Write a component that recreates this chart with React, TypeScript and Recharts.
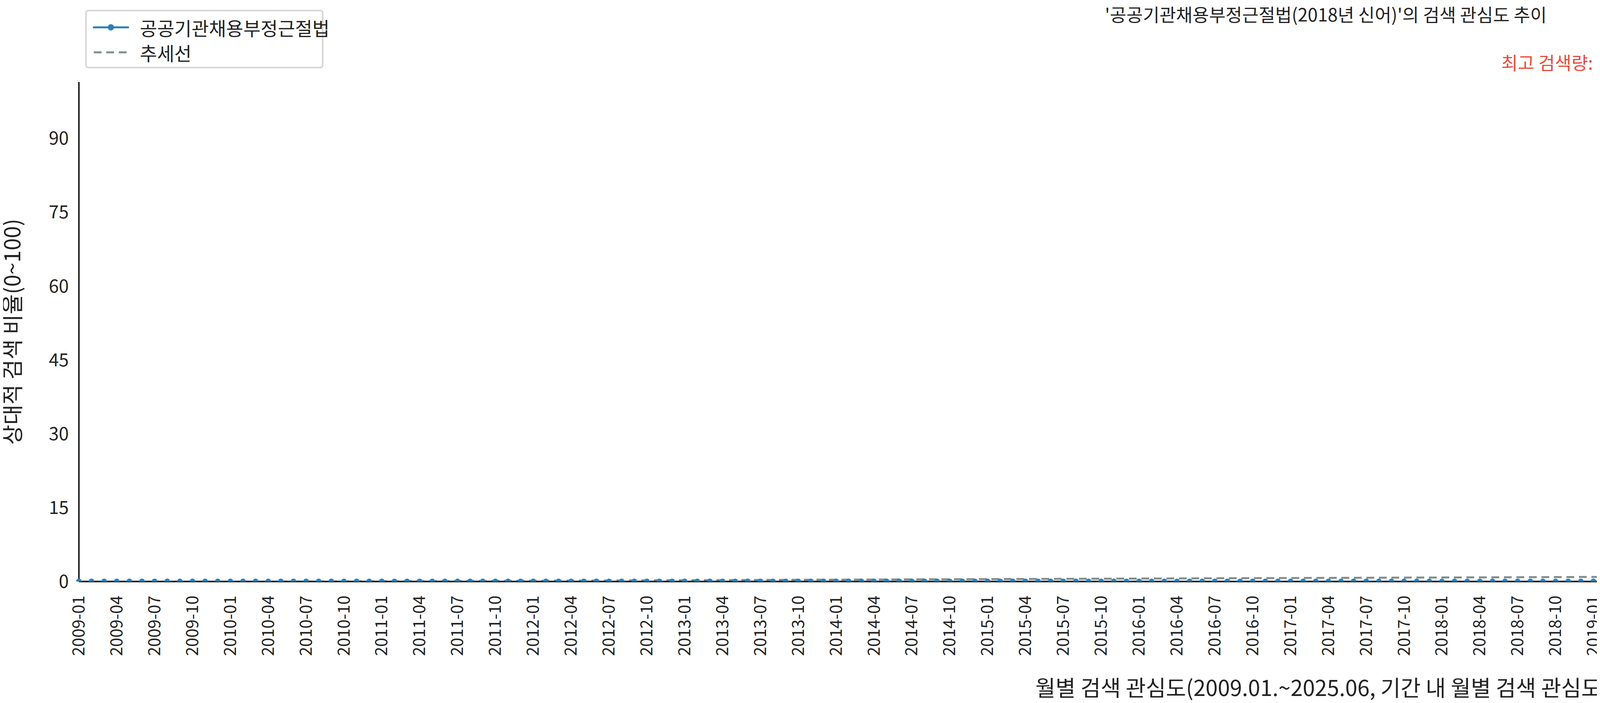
import { LineChart, Line, XAxis, YAxis, ReferenceDot, Label } from "recharts";

const FONT = "'Noto Sans CJK KR', 'Noto Sans', sans-serif";

// monthly search interest, 2009-01 .. 2025-06 (all zero except two spikes)
const START_YEAR = 2009;
const MONTH_COUNT = 198;
const spikes: Record<string, number> = { "2019-03": 100, "2023-10": 46 };

const months: string[] = [];
for (let i = 0; i < MONTH_COUNT; i++) {
  const y = START_YEAR + Math.floor(i / 12);
  const m = (i % 12) + 1;
  months.push(`${y}-${String(m).padStart(2, "0")}`);
}
const values: number[] = months.map((m) => spikes[m] ?? 0);
const tickLabels = months.filter((_, i) => i % 3 === 0);
const yTicks = [0, 15, 30, 45, 60, 75, 90];

// least squares trend over the series
const n = values.length;
const xm = (n - 1) / 2;
const ym = values.reduce((a, b) => a + b, 0) / n;
let sxy = 0;
let sxx = 0;
values.forEach((v, i) => {
  sxy += (i - xm) * (v - ym);
  sxx += (i - xm) * (i - xm);
});
const slope = sxy / sxx;
const data = months.map((m, i) => ({
  month: m,
  value: values[i],
  trend: ym + slope * (i - xm),
}));

const peakIdx = values.indexOf(Math.max(...values));
const peakMonth = months[peakIdx];
const peakLabel = `최고 검색량: ${peakMonth.slice(0, 4)}년 ${peakMonth.slice(5)}월(${values[peakIdx]})`;

function PeakMark(props: any) {
  const { cx, cy } = props;
  const s = 16;
  return (
    <g>
      <path
        d={`M${cx - s},${cy - s}L${cx + s},${cy + s}M${cx - s},${cy + s}L${cx + s},${cy - s}`}
        stroke="#e74c3c"
        strokeWidth={9}
      />
      <text x={cx} y={cy - 50} textAnchor="middle" fill="#e74c3c" fontSize={46} fontFamily={FONT}>
        {peakLabel}
      </text>
    </g>
  );
}

function XTick(props: any) {
  const { x, y, payload } = props;
  return (
    <text
      x={x}
      y={y}
      transform={`rotate(-90 ${x} ${y + 14})`}
      dx={-14}
      dy={28}
      textAnchor="end"
      fill="#222"
      fontSize={42}
      fontFamily={FONT}
    >
      {payload.value}
    </text>
  );
}

export default function App() {
  return (
    <div
      style={{
        position: "relative",
        margin: "-8px 0 0 -8px",
        width: 6600,
        height: 1800,
        overflow: "hidden",
        background: "#fff",
        fontFamily: FONT,
      }}
    >
      <div style={{ position: "absolute", top: 2, left: 198, width: 6392, textAlign: "center", fontSize: 46, color: "#222" }}>
        '공공기관채용부정근절법(2018년 신어)'의 검색 관심도 추이
      </div>
      <div
        style={{
          position: "absolute",
          left: 218,
          top: 25,
          width: 610,
          height: 150,
          border: "4px solid #d6d6d6",
          borderRadius: 8,
          boxSizing: "border-box",
          fontSize: 48,
          color: "#222",
          whiteSpace: "nowrap",
        }}
      >
        <div style={{ position: "absolute", left: 14, top: 6, display: "flex", alignItems: "center" }}>
          <svg width={96} height={60}>
            <line x1={4} y1={30} x2={92} y2={30} stroke="#2980b9" strokeWidth={5} strokeLinecap="round" />
            <circle cx={48} cy={30} r={8} fill="#2980b9" />
          </svg>
          <span style={{ marginLeft: 26 }}>공공기관채용부정근절법</span>
        </div>
        <div style={{ position: "absolute", left: 14, top: 70, display: "flex", alignItems: "center" }}>
          <svg width={96} height={60}>
            <line x1={4} y1={30} x2={92} y2={30} stroke="#7f8c8d" strokeWidth={5} strokeDasharray="20 12" />
          </svg>
          <span style={{ marginLeft: 26 }}>추세선</span>
        </div>
      </div>
      <div style={{ position: "absolute", left: 0, top: 0 }}>
        <LineChart width={6600} height={1800} data={data} margin={{ top: 210, right: 33, bottom: 0, left: 102 }}>
          <XAxis
            dataKey="month"
            ticks={tickLabels}
            interval={0}
            tick={<XTick />}
            tickLine={false}
            axisLine={{ stroke: "#222", strokeWidth: 4 }}
            height={311}
          >
            <Label value="월별 검색 관심도(2009.01.~2025.06, 기간 내 월별 검색 관심도)" position="insideBottom" offset={18} fill="#222" fontSize={56} fontFamily={FONT} />
          </XAxis>
          <YAxis
            domain={[0, 101.4]}
            ticks={yTicks}
            allowDataOverflow
            width={100}
            tickLine={false}
            axisLine={{ stroke: "#222", strokeWidth: 4 }}
            tick={{ fill: "#222", fontSize: 46, fontFamily: FONT }}
            tickMargin={20}
          >
            <Label value="상대적 검색 비율(0~100)" angle={-90} position="center" dx={-120} fill="#222" fontSize={56} fontFamily={FONT} />
          </YAxis>
          <Line
            dataKey="trend"
            stroke="#7f8c8d"
            strokeWidth={5}
            strokeDasharray="20 12"
            dot={false}
            isAnimationActive={false}
          />
          <Line
            dataKey="value"
            stroke="#2980b9"
            strokeWidth={4.5}
            dot={{ r: 7.5, fill: "#2980b9", stroke: "none" }}
            isAnimationActive={false}
          />
          <ReferenceDot x={peakMonth} y={values[peakIdx]} shape={<PeakMark />} />
        </LineChart>
      </div>
    </div>
  );
}
